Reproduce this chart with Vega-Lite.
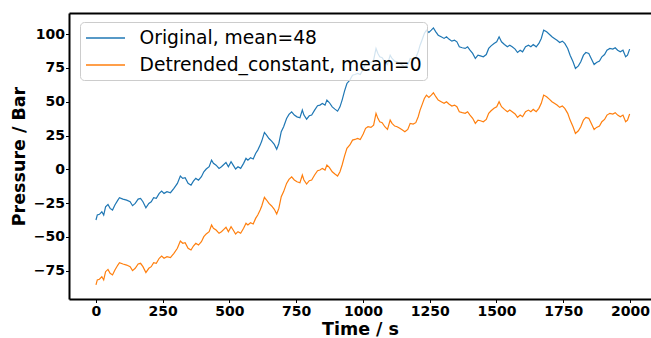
{
  "$schema": "https://vega.github.io/schema/vega-lite/v6.json",
  "width": 582,
  "height": 286,
  "autosize": {"type": "none"},
  "padding": {"left": 69, "top": 13, "right": 0, "bottom": 39},
  "config": {
    "view": {"stroke": null},
    "font": "DejaVu Sans",
    "axis": {"grid": false, "domainColor": "#000000", "domainWidth": 2, "tickColor": "#000000", "tickSize": 3.5, "tickWidth": 1, "labelFont": "DejaVu Sans", "labelFontWeight": "bold", "labelFontSize": 14, "labelColor": "#000000", "titleFont": "DejaVu Sans", "titleFontWeight": "bold", "titleFontSize": 17.5, "titleColor": "#000000"}
  },
  "data": {"values": [
{"t":0,"v":-85.5,"series":"Detrended_constant, mean=0"},{"t":5,"v":-81.8,"series":"Detrended_constant, mean=0"},{"t":13,"v":-81.3,"series":"Detrended_constant, mean=0"},{"t":22,"v":-79.4,"series":"Detrended_constant, mean=0"},{"t":29,"v":-81.8,"series":"Detrended_constant, mean=0"},{"t":36,"v":-75.7,"series":"Detrended_constant, mean=0"},{"t":45,"v":-74.0,"series":"Detrended_constant, mean=0"},{"t":53,"v":-76.9,"series":"Detrended_constant, mean=0"},{"t":62,"v":-78.1,"series":"Detrended_constant, mean=0"},{"t":71,"v":-74.4,"series":"Detrended_constant, mean=0"},{"t":82,"v":-70.8,"series":"Detrended_constant, mean=0"},{"t":88,"v":-69.0,"series":"Detrended_constant, mean=0"},{"t":101,"v":-70.0,"series":"Detrended_constant, mean=0"},{"t":115,"v":-70.8,"series":"Detrended_constant, mean=0"},{"t":128,"v":-72.0,"series":"Detrended_constant, mean=0"},{"t":137,"v":-74.9,"series":"Detrended_constant, mean=0"},{"t":147,"v":-73.2,"series":"Detrended_constant, mean=0"},{"t":158,"v":-70.0,"series":"Detrended_constant, mean=0"},{"t":167,"v":-69.5,"series":"Detrended_constant, mean=0"},{"t":176,"v":-72.0,"series":"Detrended_constant, mean=0"},{"t":187,"v":-76.4,"series":"Detrended_constant, mean=0"},{"t":198,"v":-73.2,"series":"Detrended_constant, mean=0"},{"t":207,"v":-72.0,"series":"Detrended_constant, mean=0"},{"t":216,"v":-69.0,"series":"Detrended_constant, mean=0"},{"t":226,"v":-69.5,"series":"Detrended_constant, mean=0"},{"t":237,"v":-65.8,"series":"Detrended_constant, mean=0"},{"t":246,"v":-64.1,"series":"Detrended_constant, mean=0"},{"t":255,"v":-65.8,"series":"Detrended_constant, mean=0"},{"t":266,"v":-64.6,"series":"Detrended_constant, mean=0"},{"t":279,"v":-65.3,"series":"Detrended_constant, mean=0"},{"t":292,"v":-62.1,"series":"Detrended_constant, mean=0"},{"t":305,"v":-58.4,"series":"Detrended_constant, mean=0"},{"t":316,"v":-53.0,"series":"Detrended_constant, mean=0"},{"t":325,"v":-54.7,"series":"Detrended_constant, mean=0"},{"t":334,"v":-54.2,"series":"Detrended_constant, mean=0"},{"t":345,"v":-58.4,"series":"Detrended_constant, mean=0"},{"t":356,"v":-59.7,"series":"Detrended_constant, mean=0"},{"t":365,"v":-56.7,"series":"Detrended_constant, mean=0"},{"t":374,"v":-54.7,"series":"Detrended_constant, mean=0"},{"t":384,"v":-56.0,"series":"Detrended_constant, mean=0"},{"t":395,"v":-53.5,"series":"Detrended_constant, mean=0"},{"t":404,"v":-49.8,"series":"Detrended_constant, mean=0"},{"t":413,"v":-47.8,"series":"Detrended_constant, mean=0"},{"t":424,"v":-46.1,"series":"Detrended_constant, mean=0"},{"t":433,"v":-41.2,"series":"Detrended_constant, mean=0"},{"t":440,"v":-43.6,"series":"Detrended_constant, mean=0"},{"t":450,"v":-44.9,"series":"Detrended_constant, mean=0"},{"t":461,"v":-47.3,"series":"Detrended_constant, mean=0"},{"t":470,"v":-46.1,"series":"Detrended_constant, mean=0"},{"t":479,"v":-44.4,"series":"Detrended_constant, mean=0"},{"t":487,"v":-42.9,"series":"Detrended_constant, mean=0"},{"t":496,"v":-46.1,"series":"Detrended_constant, mean=0"},{"t":506,"v":-42.4,"series":"Detrended_constant, mean=0"},{"t":514,"v":-44.9,"series":"Detrended_constant, mean=0"},{"t":523,"v":-47.8,"series":"Detrended_constant, mean=0"},{"t":532,"v":-46.1,"series":"Detrended_constant, mean=0"},{"t":542,"v":-47.3,"series":"Detrended_constant, mean=0"},{"t":553,"v":-43.6,"series":"Detrended_constant, mean=0"},{"t":562,"v":-39.9,"series":"Detrended_constant, mean=0"},{"t":569,"v":-41.2,"series":"Detrended_constant, mean=0"},{"t":579,"v":-39.5,"series":"Detrended_constant, mean=0"},{"t":589,"v":-40.4,"series":"Detrended_constant, mean=0"},{"t":598,"v":-36.3,"series":"Detrended_constant, mean=0"},{"t":606,"v":-33.8,"series":"Detrended_constant, mean=0"},{"t":615,"v":-30.1,"series":"Detrended_constant, mean=0"},{"t":621,"v":-27.1,"series":"Detrended_constant, mean=0"},{"t":631,"v":-20.7,"series":"Detrended_constant, mean=0"},{"t":639,"v":-22.7,"series":"Detrended_constant, mean=0"},{"t":648,"v":-25.2,"series":"Detrended_constant, mean=0"},{"t":658,"v":-27.1,"series":"Detrended_constant, mean=0"},{"t":668,"v":-29.6,"series":"Detrended_constant, mean=0"},{"t":677,"v":-33.1,"series":"Detrended_constant, mean=0"},{"t":685,"v":-28.9,"series":"Detrended_constant, mean=0"},{"t":694,"v":-20.2,"series":"Detrended_constant, mean=0"},{"t":703,"v":-16.5,"series":"Detrended_constant, mean=0"},{"t":714,"v":-10.4,"series":"Detrended_constant, mean=0"},{"t":723,"v":-7.4,"series":"Detrended_constant, mean=0"},{"t":733,"v":-5.5,"series":"Detrended_constant, mean=0"},{"t":743,"v":-7.9,"series":"Detrended_constant, mean=0"},{"t":753,"v":-9.2,"series":"Detrended_constant, mean=0"},{"t":764,"v":-9.9,"series":"Detrended_constant, mean=0"},{"t":773,"v":-4.2,"series":"Detrended_constant, mean=0"},{"t":779,"v":-7.9,"series":"Detrended_constant, mean=0"},{"t":789,"v":-10.9,"series":"Detrended_constant, mean=0"},{"t":799,"v":-8.4,"series":"Detrended_constant, mean=0"},{"t":808,"v":-7.9,"series":"Detrended_constant, mean=0"},{"t":819,"v":-4.2,"series":"Detrended_constant, mean=0"},{"t":830,"v":-1.0,"series":"Detrended_constant, mean=0"},{"t":839,"v":-0.5,"series":"Detrended_constant, mean=0"},{"t":848,"v":0.7,"series":"Detrended_constant, mean=0"},{"t":858,"v":-0.5,"series":"Detrended_constant, mean=0"},{"t":865,"v":3.2,"series":"Detrended_constant, mean=0"},{"t":874,"v":1.4,"series":"Detrended_constant, mean=0"},{"t":885,"v":-1.8,"series":"Detrended_constant, mean=0"},{"t":895,"v":-3.5,"series":"Detrended_constant, mean=0"},{"t":905,"v":-5.0,"series":"Detrended_constant, mean=0"},{"t":914,"v":-1.8,"series":"Detrended_constant, mean=0"},{"t":922,"v":3.2,"series":"Detrended_constant, mean=0"},{"t":931,"v":9.8,"series":"Detrended_constant, mean=0"},{"t":940,"v":15.5,"series":"Detrended_constant, mean=0"},{"t":951,"v":18.0,"series":"Detrended_constant, mean=0"},{"t":961,"v":21.6,"series":"Detrended_constant, mean=0"},{"t":970,"v":22.1,"series":"Detrended_constant, mean=0"},{"t":980,"v":22.9,"series":"Detrended_constant, mean=0"},{"t":990,"v":22.1,"series":"Detrended_constant, mean=0"},{"t":1001,"v":26.1,"series":"Detrended_constant, mean=0"},{"t":1010,"v":30.3,"series":"Detrended_constant, mean=0"},{"t":1019,"v":31.5,"series":"Detrended_constant, mean=0"},{"t":1030,"v":31.0,"series":"Detrended_constant, mean=0"},{"t":1040,"v":32.7,"series":"Detrended_constant, mean=0"},{"t":1049,"v":41.4,"series":"Detrended_constant, mean=0"},{"t":1056,"v":37.7,"series":"Detrended_constant, mean=0"},{"t":1063,"v":35.2,"series":"Detrended_constant, mean=0"},{"t":1072,"v":34.5,"series":"Detrended_constant, mean=0"},{"t":1082,"v":31.5,"series":"Detrended_constant, mean=0"},{"t":1092,"v":29.5,"series":"Detrended_constant, mean=0"},{"t":1102,"v":36.4,"series":"Detrended_constant, mean=0"},{"t":1109,"v":34.0,"series":"Detrended_constant, mean=0"},{"t":1119,"v":32.0,"series":"Detrended_constant, mean=0"},{"t":1128,"v":31.5,"series":"Detrended_constant, mean=0"},{"t":1138,"v":30.3,"series":"Detrended_constant, mean=0"},{"t":1148,"v":29.0,"series":"Detrended_constant, mean=0"},{"t":1157,"v":27.8,"series":"Detrended_constant, mean=0"},{"t":1168,"v":29.5,"series":"Detrended_constant, mean=0"},{"t":1177,"v":34.0,"series":"Detrended_constant, mean=0"},{"t":1188,"v":33.5,"series":"Detrended_constant, mean=0"},{"t":1198,"v":34.5,"series":"Detrended_constant, mean=0"},{"t":1207,"v":38.9,"series":"Detrended_constant, mean=0"},{"t":1214,"v":43.8,"series":"Detrended_constant, mean=0"},{"t":1221,"v":47.5,"series":"Detrended_constant, mean=0"},{"t":1230,"v":52.4,"series":"Detrended_constant, mean=0"},{"t":1238,"v":54.9,"series":"Detrended_constant, mean=0"},{"t":1247,"v":53.2,"series":"Detrended_constant, mean=0"},{"t":1256,"v":54.9,"series":"Detrended_constant, mean=0"},{"t":1264,"v":56.6,"series":"Detrended_constant, mean=0"},{"t":1273,"v":53.7,"series":"Detrended_constant, mean=0"},{"t":1282,"v":51.2,"series":"Detrended_constant, mean=0"},{"t":1293,"v":50.0,"series":"Detrended_constant, mean=0"},{"t":1304,"v":48.8,"series":"Detrended_constant, mean=0"},{"t":1313,"v":50.0,"series":"Detrended_constant, mean=0"},{"t":1322,"v":48.3,"series":"Detrended_constant, mean=0"},{"t":1333,"v":46.8,"series":"Detrended_constant, mean=0"},{"t":1343,"v":47.5,"series":"Detrended_constant, mean=0"},{"t":1352,"v":46.3,"series":"Detrended_constant, mean=0"},{"t":1361,"v":42.6,"series":"Detrended_constant, mean=0"},{"t":1372,"v":41.9,"series":"Detrended_constant, mean=0"},{"t":1383,"v":41.4,"series":"Detrended_constant, mean=0"},{"t":1392,"v":42.6,"series":"Detrended_constant, mean=0"},{"t":1401,"v":40.1,"series":"Detrended_constant, mean=0"},{"t":1411,"v":37.7,"series":"Detrended_constant, mean=0"},{"t":1421,"v":34.0,"series":"Detrended_constant, mean=0"},{"t":1431,"v":36.4,"series":"Detrended_constant, mean=0"},{"t":1440,"v":35.9,"series":"Detrended_constant, mean=0"},{"t":1451,"v":35.2,"series":"Detrended_constant, mean=0"},{"t":1462,"v":36.9,"series":"Detrended_constant, mean=0"},{"t":1471,"v":41.4,"series":"Detrended_constant, mean=0"},{"t":1480,"v":43.3,"series":"Detrended_constant, mean=0"},{"t":1491,"v":45.1,"series":"Detrended_constant, mean=0"},{"t":1501,"v":46.3,"series":"Detrended_constant, mean=0"},{"t":1510,"v":50.0,"series":"Detrended_constant, mean=0"},{"t":1519,"v":46.3,"series":"Detrended_constant, mean=0"},{"t":1530,"v":44.3,"series":"Detrended_constant, mean=0"},{"t":1541,"v":42.6,"series":"Detrended_constant, mean=0"},{"t":1550,"v":43.8,"series":"Detrended_constant, mean=0"},{"t":1559,"v":42.6,"series":"Detrended_constant, mean=0"},{"t":1570,"v":40.9,"series":"Detrended_constant, mean=0"},{"t":1579,"v":38.4,"series":"Detrended_constant, mean=0"},{"t":1589,"v":40.1,"series":"Detrended_constant, mean=0"},{"t":1598,"v":38.9,"series":"Detrended_constant, mean=0"},{"t":1609,"v":42.6,"series":"Detrended_constant, mean=0"},{"t":1620,"v":43.8,"series":"Detrended_constant, mean=0"},{"t":1629,"v":42.6,"series":"Detrended_constant, mean=0"},{"t":1638,"v":44.3,"series":"Detrended_constant, mean=0"},{"t":1649,"v":42.6,"series":"Detrended_constant, mean=0"},{"t":1659,"v":45.1,"series":"Detrended_constant, mean=0"},{"t":1668,"v":48.8,"series":"Detrended_constant, mean=0"},{"t":1677,"v":54.9,"series":"Detrended_constant, mean=0"},{"t":1688,"v":53.7,"series":"Detrended_constant, mean=0"},{"t":1699,"v":51.7,"series":"Detrended_constant, mean=0"},{"t":1708,"v":50.0,"series":"Detrended_constant, mean=0"},{"t":1717,"v":48.8,"series":"Detrended_constant, mean=0"},{"t":1727,"v":47.5,"series":"Detrended_constant, mean=0"},{"t":1737,"v":45.8,"series":"Detrended_constant, mean=0"},{"t":1747,"v":46.8,"series":"Detrended_constant, mean=0"},{"t":1756,"v":45.1,"series":"Detrended_constant, mean=0"},{"t":1767,"v":41.4,"series":"Detrended_constant, mean=0"},{"t":1776,"v":36.4,"series":"Detrended_constant, mean=0"},{"t":1787,"v":31.5,"series":"Detrended_constant, mean=0"},{"t":1796,"v":26.6,"series":"Detrended_constant, mean=0"},{"t":1807,"v":28.5,"series":"Detrended_constant, mean=0"},{"t":1816,"v":31.5,"series":"Detrended_constant, mean=0"},{"t":1826,"v":36.4,"series":"Detrended_constant, mean=0"},{"t":1835,"v":38.4,"series":"Detrended_constant, mean=0"},{"t":1846,"v":37.7,"series":"Detrended_constant, mean=0"},{"t":1855,"v":34.0,"series":"Detrended_constant, mean=0"},{"t":1866,"v":29.5,"series":"Detrended_constant, mean=0"},{"t":1875,"v":31.0,"series":"Detrended_constant, mean=0"},{"t":1886,"v":32.0,"series":"Detrended_constant, mean=0"},{"t":1895,"v":35.2,"series":"Detrended_constant, mean=0"},{"t":1905,"v":36.9,"series":"Detrended_constant, mean=0"},{"t":1914,"v":40.1,"series":"Detrended_constant, mean=0"},{"t":1925,"v":41.4,"series":"Detrended_constant, mean=0"},{"t":1936,"v":40.9,"series":"Detrended_constant, mean=0"},{"t":1945,"v":41.9,"series":"Detrended_constant, mean=0"},{"t":1954,"v":40.1,"series":"Detrended_constant, mean=0"},{"t":1964,"v":38.9,"series":"Detrended_constant, mean=0"},{"t":1974,"v":40.1,"series":"Detrended_constant, mean=0"},{"t":1984,"v":35.2,"series":"Detrended_constant, mean=0"},{"t":1991,"v":36.4,"series":"Detrended_constant, mean=0"},{"t":1999,"v":40.9,"series":"Detrended_constant, mean=0"},
{"t":0,"v":-37.5,"series":"Original, mean=48"},{"t":5,"v":-33.8,"series":"Original, mean=48"},{"t":13,"v":-33.3,"series":"Original, mean=48"},{"t":22,"v":-31.4,"series":"Original, mean=48"},{"t":29,"v":-33.8,"series":"Original, mean=48"},{"t":36,"v":-27.7,"series":"Original, mean=48"},{"t":45,"v":-26.0,"series":"Original, mean=48"},{"t":53,"v":-28.9,"series":"Original, mean=48"},{"t":62,"v":-30.1,"series":"Original, mean=48"},{"t":71,"v":-26.4,"series":"Original, mean=48"},{"t":82,"v":-22.8,"series":"Original, mean=48"},{"t":88,"v":-21.0,"series":"Original, mean=48"},{"t":101,"v":-22.0,"series":"Original, mean=48"},{"t":115,"v":-22.8,"series":"Original, mean=48"},{"t":128,"v":-24.0,"series":"Original, mean=48"},{"t":137,"v":-26.9,"series":"Original, mean=48"},{"t":147,"v":-25.2,"series":"Original, mean=48"},{"t":158,"v":-22.0,"series":"Original, mean=48"},{"t":167,"v":-21.5,"series":"Original, mean=48"},{"t":176,"v":-24.0,"series":"Original, mean=48"},{"t":187,"v":-28.4,"series":"Original, mean=48"},{"t":198,"v":-25.2,"series":"Original, mean=48"},{"t":207,"v":-24.0,"series":"Original, mean=48"},{"t":216,"v":-21.0,"series":"Original, mean=48"},{"t":226,"v":-21.5,"series":"Original, mean=48"},{"t":237,"v":-17.8,"series":"Original, mean=48"},{"t":246,"v":-16.1,"series":"Original, mean=48"},{"t":255,"v":-17.8,"series":"Original, mean=48"},{"t":266,"v":-16.6,"series":"Original, mean=48"},{"t":279,"v":-17.3,"series":"Original, mean=48"},{"t":292,"v":-14.1,"series":"Original, mean=48"},{"t":305,"v":-10.4,"series":"Original, mean=48"},{"t":316,"v":-5.0,"series":"Original, mean=48"},{"t":325,"v":-6.7,"series":"Original, mean=48"},{"t":334,"v":-6.2,"series":"Original, mean=48"},{"t":345,"v":-10.4,"series":"Original, mean=48"},{"t":356,"v":-11.7,"series":"Original, mean=48"},{"t":365,"v":-8.7,"series":"Original, mean=48"},{"t":374,"v":-6.7,"series":"Original, mean=48"},{"t":384,"v":-8.0,"series":"Original, mean=48"},{"t":395,"v":-5.5,"series":"Original, mean=48"},{"t":404,"v":-1.8,"series":"Original, mean=48"},{"t":413,"v":0.2,"series":"Original, mean=48"},{"t":424,"v":1.9,"series":"Original, mean=48"},{"t":433,"v":6.8,"series":"Original, mean=48"},{"t":440,"v":4.4,"series":"Original, mean=48"},{"t":450,"v":3.1,"series":"Original, mean=48"},{"t":461,"v":0.7,"series":"Original, mean=48"},{"t":470,"v":1.9,"series":"Original, mean=48"},{"t":479,"v":3.6,"series":"Original, mean=48"},{"t":487,"v":5.1,"series":"Original, mean=48"},{"t":496,"v":1.9,"series":"Original, mean=48"},{"t":506,"v":5.6,"series":"Original, mean=48"},{"t":514,"v":3.1,"series":"Original, mean=48"},{"t":523,"v":0.2,"series":"Original, mean=48"},{"t":532,"v":1.9,"series":"Original, mean=48"},{"t":542,"v":0.7,"series":"Original, mean=48"},{"t":553,"v":4.4,"series":"Original, mean=48"},{"t":562,"v":8.1,"series":"Original, mean=48"},{"t":569,"v":6.8,"series":"Original, mean=48"},{"t":579,"v":8.5,"series":"Original, mean=48"},{"t":589,"v":7.6,"series":"Original, mean=48"},{"t":598,"v":11.7,"series":"Original, mean=48"},{"t":606,"v":14.2,"series":"Original, mean=48"},{"t":615,"v":17.9,"series":"Original, mean=48"},{"t":621,"v":20.9,"series":"Original, mean=48"},{"t":631,"v":27.3,"series":"Original, mean=48"},{"t":639,"v":25.3,"series":"Original, mean=48"},{"t":648,"v":22.8,"series":"Original, mean=48"},{"t":658,"v":20.9,"series":"Original, mean=48"},{"t":668,"v":18.4,"series":"Original, mean=48"},{"t":677,"v":14.9,"series":"Original, mean=48"},{"t":685,"v":19.1,"series":"Original, mean=48"},{"t":694,"v":27.8,"series":"Original, mean=48"},{"t":703,"v":31.5,"series":"Original, mean=48"},{"t":714,"v":37.6,"series":"Original, mean=48"},{"t":723,"v":40.6,"series":"Original, mean=48"},{"t":733,"v":42.5,"series":"Original, mean=48"},{"t":743,"v":40.1,"series":"Original, mean=48"},{"t":753,"v":38.8,"series":"Original, mean=48"},{"t":764,"v":38.1,"series":"Original, mean=48"},{"t":773,"v":43.8,"series":"Original, mean=48"},{"t":779,"v":40.1,"series":"Original, mean=48"},{"t":789,"v":37.1,"series":"Original, mean=48"},{"t":799,"v":39.6,"series":"Original, mean=48"},{"t":808,"v":40.1,"series":"Original, mean=48"},{"t":819,"v":43.8,"series":"Original, mean=48"},{"t":830,"v":47.0,"series":"Original, mean=48"},{"t":839,"v":47.5,"series":"Original, mean=48"},{"t":848,"v":48.7,"series":"Original, mean=48"},{"t":858,"v":47.5,"series":"Original, mean=48"},{"t":865,"v":51.2,"series":"Original, mean=48"},{"t":874,"v":49.4,"series":"Original, mean=48"},{"t":885,"v":46.2,"series":"Original, mean=48"},{"t":895,"v":44.5,"series":"Original, mean=48"},{"t":905,"v":43.0,"series":"Original, mean=48"},{"t":914,"v":46.2,"series":"Original, mean=48"},{"t":922,"v":51.2,"series":"Original, mean=48"},{"t":931,"v":57.8,"series":"Original, mean=48"},{"t":940,"v":63.5,"series":"Original, mean=48"},{"t":951,"v":66.0,"series":"Original, mean=48"},{"t":961,"v":69.6,"series":"Original, mean=48"},{"t":970,"v":70.1,"series":"Original, mean=48"},{"t":980,"v":70.9,"series":"Original, mean=48"},{"t":990,"v":70.1,"series":"Original, mean=48"},{"t":1001,"v":74.1,"series":"Original, mean=48"},{"t":1010,"v":78.3,"series":"Original, mean=48"},{"t":1019,"v":79.5,"series":"Original, mean=48"},{"t":1030,"v":79.0,"series":"Original, mean=48"},{"t":1040,"v":80.7,"series":"Original, mean=48"},{"t":1049,"v":89.4,"series":"Original, mean=48"},{"t":1056,"v":85.7,"series":"Original, mean=48"},{"t":1063,"v":83.2,"series":"Original, mean=48"},{"t":1072,"v":82.5,"series":"Original, mean=48"},{"t":1082,"v":79.5,"series":"Original, mean=48"},{"t":1092,"v":77.5,"series":"Original, mean=48"},{"t":1102,"v":84.4,"series":"Original, mean=48"},{"t":1109,"v":82.0,"series":"Original, mean=48"},{"t":1119,"v":80.0,"series":"Original, mean=48"},{"t":1128,"v":79.5,"series":"Original, mean=48"},{"t":1138,"v":78.3,"series":"Original, mean=48"},{"t":1148,"v":77.0,"series":"Original, mean=48"},{"t":1157,"v":75.8,"series":"Original, mean=48"},{"t":1168,"v":77.5,"series":"Original, mean=48"},{"t":1177,"v":82.0,"series":"Original, mean=48"},{"t":1188,"v":81.5,"series":"Original, mean=48"},{"t":1198,"v":82.5,"series":"Original, mean=48"},{"t":1207,"v":86.9,"series":"Original, mean=48"},{"t":1214,"v":91.8,"series":"Original, mean=48"},{"t":1221,"v":95.5,"series":"Original, mean=48"},{"t":1230,"v":100.4,"series":"Original, mean=48"},{"t":1238,"v":102.9,"series":"Original, mean=48"},{"t":1247,"v":101.2,"series":"Original, mean=48"},{"t":1256,"v":102.9,"series":"Original, mean=48"},{"t":1264,"v":104.6,"series":"Original, mean=48"},{"t":1273,"v":101.7,"series":"Original, mean=48"},{"t":1282,"v":99.2,"series":"Original, mean=48"},{"t":1293,"v":98.0,"series":"Original, mean=48"},{"t":1304,"v":96.8,"series":"Original, mean=48"},{"t":1313,"v":98.0,"series":"Original, mean=48"},{"t":1322,"v":96.3,"series":"Original, mean=48"},{"t":1333,"v":94.8,"series":"Original, mean=48"},{"t":1343,"v":95.5,"series":"Original, mean=48"},{"t":1352,"v":94.3,"series":"Original, mean=48"},{"t":1361,"v":90.6,"series":"Original, mean=48"},{"t":1372,"v":89.9,"series":"Original, mean=48"},{"t":1383,"v":89.4,"series":"Original, mean=48"},{"t":1392,"v":90.6,"series":"Original, mean=48"},{"t":1401,"v":88.1,"series":"Original, mean=48"},{"t":1411,"v":85.7,"series":"Original, mean=48"},{"t":1421,"v":82.0,"series":"Original, mean=48"},{"t":1431,"v":84.4,"series":"Original, mean=48"},{"t":1440,"v":83.9,"series":"Original, mean=48"},{"t":1451,"v":83.2,"series":"Original, mean=48"},{"t":1462,"v":84.9,"series":"Original, mean=48"},{"t":1471,"v":89.4,"series":"Original, mean=48"},{"t":1480,"v":91.3,"series":"Original, mean=48"},{"t":1491,"v":93.1,"series":"Original, mean=48"},{"t":1501,"v":94.3,"series":"Original, mean=48"},{"t":1510,"v":98.0,"series":"Original, mean=48"},{"t":1519,"v":94.3,"series":"Original, mean=48"},{"t":1530,"v":92.3,"series":"Original, mean=48"},{"t":1541,"v":90.6,"series":"Original, mean=48"},{"t":1550,"v":91.8,"series":"Original, mean=48"},{"t":1559,"v":90.6,"series":"Original, mean=48"},{"t":1570,"v":88.9,"series":"Original, mean=48"},{"t":1579,"v":86.4,"series":"Original, mean=48"},{"t":1589,"v":88.1,"series":"Original, mean=48"},{"t":1598,"v":86.9,"series":"Original, mean=48"},{"t":1609,"v":90.6,"series":"Original, mean=48"},{"t":1620,"v":91.8,"series":"Original, mean=48"},{"t":1629,"v":90.6,"series":"Original, mean=48"},{"t":1638,"v":92.3,"series":"Original, mean=48"},{"t":1649,"v":90.6,"series":"Original, mean=48"},{"t":1659,"v":93.1,"series":"Original, mean=48"},{"t":1668,"v":96.8,"series":"Original, mean=48"},{"t":1677,"v":102.9,"series":"Original, mean=48"},{"t":1688,"v":101.7,"series":"Original, mean=48"},{"t":1699,"v":99.7,"series":"Original, mean=48"},{"t":1708,"v":98.0,"series":"Original, mean=48"},{"t":1717,"v":96.8,"series":"Original, mean=48"},{"t":1727,"v":95.5,"series":"Original, mean=48"},{"t":1737,"v":93.8,"series":"Original, mean=48"},{"t":1747,"v":94.8,"series":"Original, mean=48"},{"t":1756,"v":93.1,"series":"Original, mean=48"},{"t":1767,"v":89.4,"series":"Original, mean=48"},{"t":1776,"v":84.4,"series":"Original, mean=48"},{"t":1787,"v":79.5,"series":"Original, mean=48"},{"t":1796,"v":74.6,"series":"Original, mean=48"},{"t":1807,"v":76.5,"series":"Original, mean=48"},{"t":1816,"v":79.5,"series":"Original, mean=48"},{"t":1826,"v":84.4,"series":"Original, mean=48"},{"t":1835,"v":86.4,"series":"Original, mean=48"},{"t":1846,"v":85.7,"series":"Original, mean=48"},{"t":1855,"v":82.0,"series":"Original, mean=48"},{"t":1866,"v":77.5,"series":"Original, mean=48"},{"t":1875,"v":79.0,"series":"Original, mean=48"},{"t":1886,"v":80.0,"series":"Original, mean=48"},{"t":1895,"v":83.2,"series":"Original, mean=48"},{"t":1905,"v":84.9,"series":"Original, mean=48"},{"t":1914,"v":88.1,"series":"Original, mean=48"},{"t":1925,"v":89.4,"series":"Original, mean=48"},{"t":1936,"v":88.9,"series":"Original, mean=48"},{"t":1945,"v":89.9,"series":"Original, mean=48"},{"t":1954,"v":88.1,"series":"Original, mean=48"},{"t":1964,"v":86.9,"series":"Original, mean=48"},{"t":1974,"v":88.1,"series":"Original, mean=48"},{"t":1984,"v":83.2,"series":"Original, mean=48"},{"t":1991,"v":84.4,"series":"Original, mean=48"},{"t":1999,"v":88.9,"series":"Original, mean=48"}
  ]},
  "layer": [
    {
      "mark": {"type": "line", "strokeWidth": 1.2, "clip": true},
      "encoding": {
        "x": {"field": "t", "type": "quantitative", "scale": {"domain": [-101, 2079], "nice": false, "zero": false},
          "axis": {"orient": "bottom", "values": [0,250,500,750,1000,1250,1500,1750,2000], "title": "Time / s", "labelPadding": 2, "titlePadding": 2, "format": "d"}},
        "y": {"field": "v", "type": "quantitative", "scale": {"domain": [-95.9, 115.6], "nice": false, "zero": false},
          "axis": {"values": [-75,-50,-25,0,25,50,75,100], "title": "Pressure / Bar", "labelPadding": 1, "titlePadding": 5, "format": "d"}},
        "color": {"field": "series", "type": "nominal",
          "scale": {"domain": ["Original, mean=48", "Detrended_constant, mean=0"], "range": ["#1f77b4", "#ff7f0e"]},
          "legend": {"orient": "none", "legendX": 11, "legendY": 9, "title": null, "direction": "vertical",
            "symbolType": "M-1.95,0H1.95", "symbolSize": 400, "symbolStrokeWidth": 1.3, "symbolOffset": 9.5,
            "labelOffset": 23, "labelFont": "DejaVu Sans", "labelFontWeight": "normal", "labelFontSize": 18.7, "labelColor": "#000000", "labelLimit": 0,
            "padding": 5, "rowPadding": 6, "fillColor": "rgba(255,255,255,0.8)", "strokeColor": "#cccccc", "cornerRadius": 4}}
      }
    },
    {
      "mark": {"type": "line", "opacity": 0},
      "encoding": {
        "x": {"field": "t", "type": "quantitative", "axis": {"orient": "top", "labels": false, "ticks": false, "title": null, "domainWidth": 2}},
        "y": {"field": "v", "type": "quantitative"}
      }
    }
  ],
  "resolve": {"axis": {"x": "independent"}}
}
